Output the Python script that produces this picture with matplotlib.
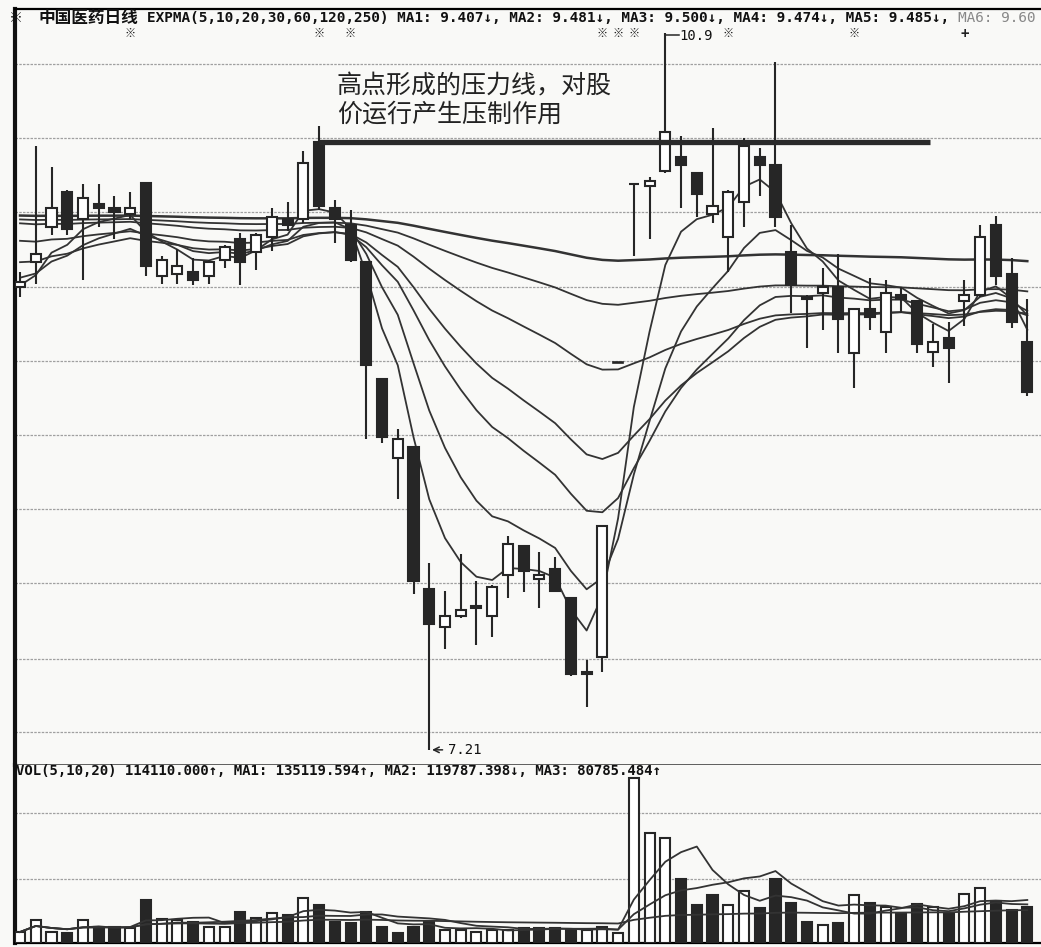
import numpy as np
import pandas as pd
import matplotlib
matplotlib.use("Agg")
import matplotlib.pyplot as plt
import matplotlib.transforms as mtransforms
from matplotlib.patches import Rectangle

plt.rcParams['font.family'] = ['DejaVu Sans Mono', 'Noto Sans CJK SC']

# daily candles (yuan)
opens = [9.59, 9.72, 9.90, 10.08, 9.94, 10.02, 10.00, 9.97, 10.13, 9.65,
         9.66, 9.67, 9.65, 9.73, 9.84, 9.77, 9.85, 9.94, 9.94, 10.34,
         10.00, 9.91, 9.72, 9.12, 8.71, 8.77, 8.04, 7.84, 7.90, 7.94,
         7.90, 8.11, 8.26, 8.09, 8.14, 7.99, 7.60, 7.69, 9.20, 10.12,
         10.11, 10.19, 10.26, 10.18, 9.97, 9.85, 10.03, 10.26, 10.22, 9.77,
         9.54, 9.56, 9.59, 9.25, 9.48, 9.36, 9.55, 9.52, 9.26, 9.33,
         9.52, 9.55, 9.91, 9.66, 9.31]
highs = [9.67, 10.32, 10.21, 10.09, 10.12, 10.12, 10.06, 10.08, 10.13, 9.75,
         9.79, 9.74, 9.73, 9.81, 9.87, 9.87, 10.00, 10.03, 10.29, 10.42,
         10.04, 9.99, 9.72, 9.12, 8.86, 8.77, 8.17, 8.03, 8.22, 8.08,
         8.06, 8.31, 8.26, 8.23, 8.20, 7.99, 7.67, 8.36, 9.20, 10.12,
         10.16, 10.90, 10.37, 10.18, 10.41, 10.09, 10.36, 10.31, 10.75, 9.91,
         9.55, 9.69, 9.76, 9.48, 9.64, 9.63, 9.59, 9.52, 9.40, 9.41,
         9.63, 9.91, 9.96, 9.74, 9.53]
lows = [9.54, 9.61, 9.86, 9.86, 9.63, 9.90, 9.84, 9.94, 9.65, 9.61,
        9.61, 9.60, 9.61, 9.69, 9.60, 9.68, 9.78, 9.88, 9.92, 9.99,
        9.82, 9.72, 8.81, 8.79, 8.50, 8.01, 7.21, 7.73, 7.89, 7.75,
        7.79, 7.99, 8.02, 7.94, 8.02, 7.59, 7.43, 7.61, 9.20, 9.75,
        9.84, 10.18, 10.00, 9.95, 9.92, 9.67, 9.90, 10.06, 9.90, 9.46,
        9.28, 9.37, 9.25, 9.07, 9.37, 9.25, 9.46, 9.25, 9.18, 9.10,
        9.39, 9.54, 9.60, 9.38, 9.03]
closes = [9.62, 9.76, 10.00, 9.89, 10.05, 10.00, 9.98, 10.00, 9.70, 9.73,
          9.70, 9.63, 9.72, 9.80, 9.72, 9.86, 9.95, 9.91, 10.23, 10.01,
          9.94, 9.73, 9.19, 8.82, 8.81, 8.08, 7.86, 7.90, 7.93, 7.95,
          8.05, 8.27, 8.13, 8.11, 8.03, 7.60, 7.61, 8.36, 9.20, 10.12,
          10.14, 10.39, 10.22, 10.07, 10.01, 10.08, 10.32, 10.22, 9.95, 9.60,
          9.53, 9.59, 9.43, 9.48, 9.44, 9.56, 9.53, 9.30, 9.31, 9.28,
          9.55, 9.85, 9.65, 9.41, 9.05]
volumes = [34900, 72900, 34900, 31700, 72900, 50700, 50700, 47600, 136300, 76100,
           72900, 66600, 50700, 50700, 98300, 79300, 95100, 88800, 142700, 120500,
           66600, 63400, 98300, 50700, 31700, 50700, 66600, 41200, 41200, 34900,
           41200, 41200, 47600, 47600, 47600, 41200, 41200, 50700, 31700, 523100,
           348700, 332900, 202900, 120500, 152200, 120500, 164800, 111000, 202900, 126800,
           66600, 57100, 63400, 152200, 126800, 114100, 95100, 123600, 114100, 95100,
           155300, 174400, 133100, 104600, 114110]
vol_up = [1, 1, 1, 0, 1, 0, 0, 1, 0, 1,
          1, 0, 1, 1, 0, 1, 1, 0, 1, 0,
          0, 0, 0, 0, 0, 0, 0, 1, 1, 1,
          1, 1, 0, 0, 0, 0, 1, 1, 1, 1,
          1, 1, 0, 0, 0, 1, 1, 0, 0, 0,
          0, 1, 0, 1, 0, 1, 0, 0, 1, 0,
          1, 1, 0, 0, 0]

# EXPMA periods and their values on the first visible day
ema_periods = [5, 10, 20, 30, 60, 120, 250]
ema_start = [9.60, 9.64, 9.72, 9.83, 9.92, 9.94, 9.96]
vol_ma_windows = [5, 10, 60]

grid_prices = [10.74, 10.36, 9.98, 9.59, 9.21, 8.83, 8.45, 8.07, 7.68, 7.30]
vol_grid = [203000, 412000]
resist_price = 10.34
marks = [7, 19, 21, 37, 38, 39, 45, 53]
plus_marks = [60]

header = ("EXPMA(5,10,20,30,60,120,250) MA1: 9.407↓, MA2: 9.481↓, "
          "MA3: 9.500↓, MA4: 9.474↓, MA5: 9.485↓,")
header_ma6 = "MA6: 9.60"
vol_header = "VOL(5,10,20) 114110.000↑, MA1: 135119.594↑, MA2: 119787.398↓, MA3: 80785.484↑"

dark = '#262626'
W, H = 1041, 947
fig = plt.figure(figsize=(W / 100, H / 100), dpi=100, facecolor='#f9f9f7')
ax = fig.add_axes([15 / W, 1 - 765 / H, 1 - 15 / W, 756 / H])
axv = fig.add_axes([15 / W, 1 - 943 / H, 1 - 15 / W, 178 / H], sharex=ax)
for a in (ax, axv):
    a.set_facecolor('#f9f9f7')
    a.set_xticks([])
    a.set_yticks([])
    a.spines['right'].set_visible(False)
    a.spines['left'].set_linewidth(3)
    a.spines['left'].set_color('#111111')
ax.spines['top'].set_linewidth(1.6)
ax.spines['bottom'].set_color('#444444')
ax.spines['bottom'].set_linewidth(1.2)
axv.spines['top'].set_visible(False)
axv.spines['bottom'].set_linewidth(1.6)

ax.set_xlim(-0.32, 64.87)
ax.set_ylim(7.132, 11.023)
axv.set_ylim(0, 564000)

for g in grid_prices:
    ax.axhline(g, color='#a0a0a0', lw=0.9, ls=(0, (2, 1)), zorder=1)
for g in vol_grid:
    axv.axhline(g, color='#a0a0a0', lw=0.9, ls=(0, (2, 1)), zorder=1)

# EXPMA lines
for n, s in zip(ema_periods, ema_start):
    e = [s]
    for c in closes[1:]:
        e.append(e[-1] + 2.0 / (n + 1) * (c - e[-1]))
    ax.plot(range(len(e)), e, color='#333333', lw=1.8 if n == 250 else 1.3, zorder=2)

bw = 0.64
for i in range(len(closes)):
    o, h, l, c = opens[i], highs[i], lows[i], closes[i]
    ax.vlines(i, l, h, color=dark, lw=1.5, zorder=3)
    ax.add_patch(Rectangle((i - bw / 2, min(o, c)), bw, max(abs(c - o), 0.004),
                           facecolor='white' if c >= o else dark,
                           edgecolor=dark, lw=1.2 if h == l else 1.5, zorder=4))
    axv.add_patch(Rectangle((i - bw / 2, 0), bw, volumes[i],
                            facecolor='white' if vol_up[i] else dark,
                            edgecolor=dark, lw=1.5, zorder=3))

vs = pd.Series(volumes)
for w in vol_ma_windows:
    axv.plot(range(len(volumes)), vs.rolling(w, min_periods=1).mean(),
             color='#333333', lw=1.3, zorder=4)

# pressure line from the high
ax.plot([19, 57.8], [resist_price, resist_price], color='#2a2a2a', lw=3.8,
        solid_capstyle='butt', zorder=5)

ax.plot([41, 41.85], [10.89, 10.89], color=dark, lw=1.1, zorder=5)
ax.text(41.9, 10.885, '10.9', fontsize=10, va='center', ha='left', color='#111111')
ax.annotate('7.21', xy=(26, 7.21), xytext=(27.2, 7.21), fontsize=10, va='center',
            color='#111111', arrowprops=dict(arrowstyle='->', lw=1.1, color=dark))

trans = mtransforms.blended_transform_factory(ax.transData, ax.transAxes)
mark_y = (765 - 34) / 756
for m in marks:
    ax.text(m, mark_y, '※', transform=trans, fontsize=8, fontweight='bold',
            ha='center', va='center', color='#222222')
for m in plus_marks:
    ax.text(m, mark_y, '+', transform=trans, fontsize=10, fontweight='bold',
            ha='center', va='center', color='#222222')

hy = 1 - 18 / H
fig.text(9 / W, hy, '※', fontsize=10, fontweight='bold', va='center', color='#111111')
fig.text(39 / W, hy, '中国医药日线', fontsize=12, fontweight='bold',
         va='center', color='#111111')
fig.text(147 / W, hy, header, fontsize=10.4, fontweight='bold', va='center',
         color='#111111')
fig.text(958 / W, hy, header_ma6, fontsize=10.4, va='center', color='#888888')
fig.text(16 / W, 1 - 771 / H, vol_header, fontsize=10.1, fontweight='bold',
         va='center', color='#111111')

fig.text(337 / W, 1 - 86 / H, '高点形成的压力线，对股', fontsize=18,
         family='Noto Sans CJK SC', va='center', color='#222222')
fig.text(337 / W, 1 - 115 / H, '价运行产生压制作用', fontsize=18,
         family='Noto Sans CJK SC', va='center', color='#222222')

fig.savefig('out.png', dpi=100, facecolor=fig.get_facecolor())
